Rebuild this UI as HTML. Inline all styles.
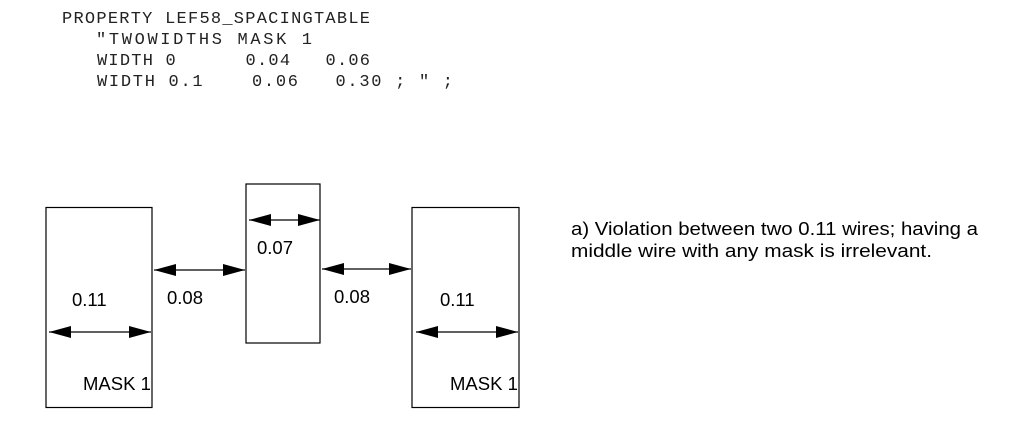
<!DOCTYPE html>
<html><head><meta charset="utf-8"><style>
html,body{margin:0;padding:0;background:#fff;width:1013px;height:439px;overflow:hidden}
svg{display:block}
.m text{white-space:pre}
</style></head><body>
<svg width="1013" height="439" xmlns="http://www.w3.org/2000/svg">
<defs>
<marker id="ah" markerWidth="24" markerHeight="12" refX="22" refY="6" orient="auto-start-reverse" markerUnits="userSpaceOnUse">
<path d="M0,0 L22,6 L0,12 Z" fill="#000"/>
</marker>
</defs>
<g class="m" font-family="'Liberation Mono', monospace" font-size="17" fill="#222">
<text x="62" y="23" textLength="308" lengthAdjust="spacing">PROPERTY LEF58_SPACINGTABLE</text>
<text x="96" y="44" textLength="216" lengthAdjust="spacing">"TWOWIDTHS MASK 1</text>
<text x="97" y="65" textLength="273" lengthAdjust="spacing">WIDTH 0      0.04   0.06</text>
<text x="97" y="86" textLength="356" lengthAdjust="spacing">WIDTH 0.1    0.06   0.30 ; " ;</text>
</g>
<g fill="none" stroke="#000" stroke-width="1.2">
<rect x="46" y="207.5" width="106" height="200"/>
<rect x="246" y="184" width="74" height="159"/>
<rect x="412" y="207.5" width="107" height="200"/>
<line x1="49" y1="332" x2="151" y2="332" marker-start="url(#ah)" marker-end="url(#ah)"/>
<line x1="249" y1="220" x2="320" y2="220" marker-start="url(#ah)" marker-end="url(#ah)"/>
<line x1="154" y1="270" x2="245" y2="270" marker-start="url(#ah)" marker-end="url(#ah)"/>
<line x1="322" y1="269" x2="411" y2="269" marker-start="url(#ah)" marker-end="url(#ah)"/>
<line x1="416" y1="332" x2="518" y2="332" marker-start="url(#ah)" marker-end="url(#ah)"/>
</g>
<g font-family="'Liberation Sans', sans-serif" font-size="18.5" fill="#000">
<text x="72" y="306">0.11</text>
<text x="167" y="304">0.08</text>
<text x="257" y="254">0.07</text>
<text x="334" y="303">0.08</text>
<text x="440" y="306">0.11</text>
<text x="83" y="390">MASK 1</text>
<text x="450" y="390">MASK 1</text>
<text x="571" y="235" textLength="407" lengthAdjust="spacingAndGlyphs">a) Violation between two 0.11 wires; having a</text>
<text x="571" y="257" textLength="361" lengthAdjust="spacingAndGlyphs">middle wire with any mask is irrelevant.</text>
</g>
</svg>
</body></html>
